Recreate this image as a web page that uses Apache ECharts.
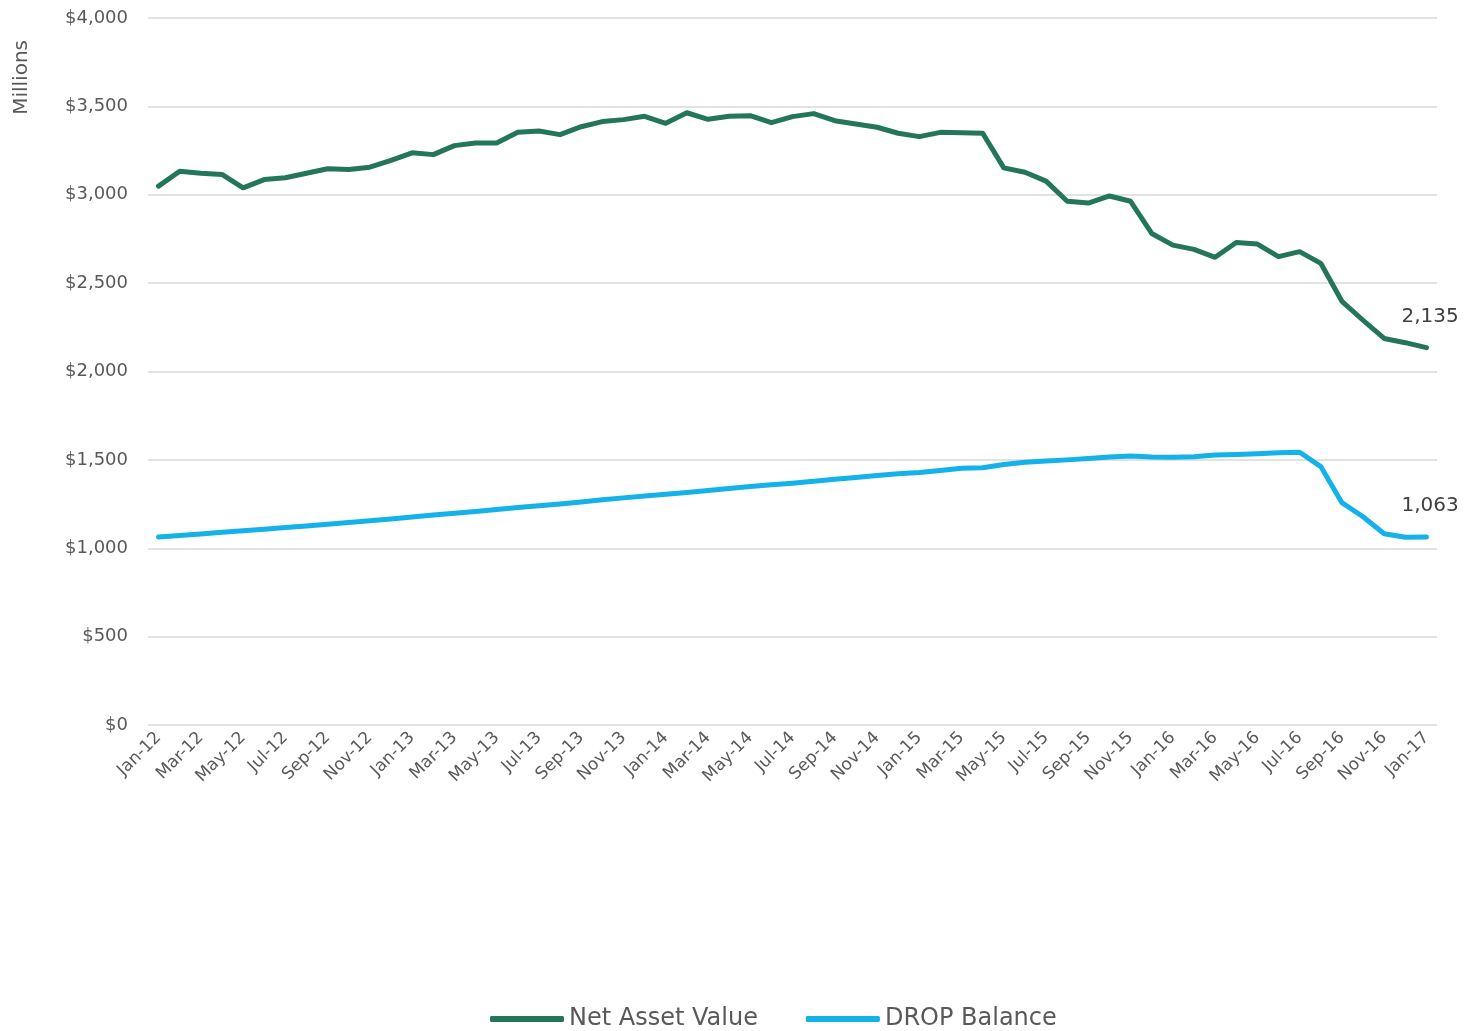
<!DOCTYPE html>
<html>
<head>
<meta charset="utf-8">
<script src="https://cdn.jsdelivr.net/npm/echarts@6/dist/echarts.min.js"></script>
<style>
  html, body { margin: 0; padding: 0; background: #fff; }
  #chart { width: 1464px; height: 1031px; }
</style>
</head>
<body>
<div id="chart"></div>
<script>
// months Jan-12 .. Jan-17
var months = [
  'Jan-12','Feb-12','Mar-12','Apr-12','May-12','Jun-12','Jul-12','Aug-12','Sep-12','Oct-12','Nov-12','Dec-12',
  'Jan-13','Feb-13','Mar-13','Apr-13','May-13','Jun-13','Jul-13','Aug-13','Sep-13','Oct-13','Nov-13','Dec-13',
  'Jan-14','Feb-14','Mar-14','Apr-14','May-14','Jun-14','Jul-14','Aug-14','Sep-14','Oct-14','Nov-14','Dec-14',
  'Jan-15','Feb-15','Mar-15','Apr-15','May-15','Jun-15','Jul-15','Aug-15','Sep-15','Oct-15','Nov-15','Dec-15',
  'Jan-16','Feb-16','Mar-16','Apr-16','May-16','Jun-16','Jul-16','Aug-16','Sep-16','Oct-16','Nov-16','Dec-16',
  'Jan-17'
];

var netAssetValue = [
  3049, 3133, 3122, 3115, 3039, 3086, 3096, 3122, 3147, 3143, 3156, 3194,
  3237, 3227, 3278, 3293, 3293, 3353, 3361, 3340, 3385, 3414, 3425, 3444,
  3404, 3464, 3427, 3444, 3447, 3408, 3442, 3459, 3419, 3400, 3382, 3348,
  3329, 3353, 3351, 3348, 3152, 3127, 3077, 2963, 2953, 2993, 2963, 2781,
  2715, 2691, 2646, 2730, 2721, 2650, 2678, 2612, 2397, 2290, 2187, 2163,
  2135
];

var dropBalance = [
  1063, 1072, 1080, 1090, 1099, 1108, 1117, 1126, 1136, 1146, 1156, 1166,
  1177, 1188, 1198, 1208, 1219, 1230, 1240, 1251, 1262, 1274, 1285, 1296,
  1306, 1316, 1327, 1338, 1349, 1359, 1368, 1379, 1390, 1400, 1411, 1421,
  1428, 1440, 1452, 1455, 1474, 1486, 1494, 1500, 1508, 1516, 1522, 1516,
  1515, 1518, 1528, 1531, 1535, 1541, 1543, 1462, 1258, 1178, 1082, 1062,
  1063
];

var fontName = 'DejaVu Sans';
var textGray = '#595959';

function withCommas(v) {
  return String(Math.round(v)).replace(/\B(?=(\d{3})+(?!\d))/g, ',');
}

var chart = echarts.init(document.getElementById('chart'));

chart.setOption({
  animation: false,
  backgroundColor: '#ffffff',
  textStyle: { fontFamily: fontName },
  grid: { left: 148, right: 27, top: 18, bottom: 306 },
  legend: {
    bottom: -5,
    left: 485,
    icon: 'roundRect',
    itemWidth: 74,
    itemHeight: 6,
    itemGap: 48,
    textStyle: { fontFamily: fontName, fontSize: 24, color: textGray },
    data: ['Net Asset Value', 'DROP Balance']
  },
  graphic: [{
    type: 'text',
    left: 12,
    top: 40,
    rotation: Math.PI / 2,
    style: { text: 'Millions', fontFamily: fontName, fontSize: 20, fill: textGray }
  }],
  xAxis: {
    type: 'category',
    data: months,
    boundaryGap: true,
    axisLine: { show: false },
    axisTick: { show: false },
    axisLabel: {
      interval: 1,
      rotate: 45,
      fontSize: 17,
      color: textGray,
      margin: 10
    }
  },
  yAxis: {
    type: 'value',
    min: 0,
    max: 4000,
    interval: 500,
    axisLine: { show: false },
    axisTick: { show: false },
    splitLine: { lineStyle: { color: '#d9d9d9', width: 1.5 } },
    axisLabel: {
      fontSize: 18,
      color: textGray,
      margin: 20,
      formatter: function (v) { return '$' + withCommas(v); }
    }
  },
  series: [
    {
      name: 'Net Asset Value',
      type: 'line',
      data: netAssetValue,
      symbol: 'none',
      lineStyle: { color: '#23765a', width: 5, cap: 'round', join: 'round' },
      itemStyle: { color: '#23765a' },
      endLabel: {
        show: true,
        formatter: function (p) { return withCommas(p.value); },
        offset: [-33, -31],
        fontSize: 20,
        color: '#404040'
      }
    },
    {
      name: 'DROP Balance',
      type: 'line',
      data: dropBalance,
      symbol: 'none',
      lineStyle: { color: '#14b2e8', width: 5, cap: 'round', join: 'round' },
      itemStyle: { color: '#14b2e8' },
      endLabel: {
        show: true,
        formatter: function (p) { return withCommas(p.value); },
        offset: [-33, -31],
        fontSize: 20,
        color: '#404040'
      }
    }
  ]
});
</script>
</body>
</html>
